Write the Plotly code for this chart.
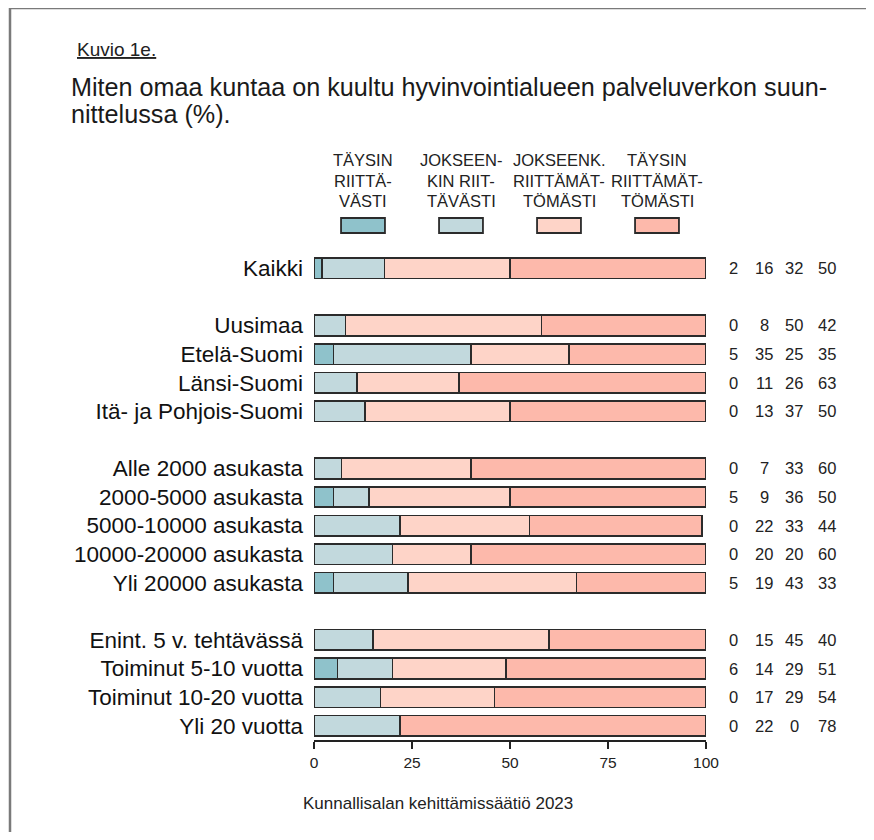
import plotly.graph_objects as go

# data
groups = [
    "Kaikki",
    "Uusimaa", "Etelä-Suomi", "Länsi-Suomi", "Itä- ja Pohjois-Suomi",
    "Alle 2000 asukasta", "2000-5000 asukasta", "5000-10000 asukasta",
    "10000-20000 asukasta", "Yli 20000 asukasta",
    "Enint. 5 v. tehtävässä", "Toiminut 5-10 vuotta",
    "Toiminut 10-20 vuotta", "Yli 20 vuotta",
]
taysin_riittavasti = [2, 0, 5, 0, 0, 0, 5, 0, 0, 5, 0, 6, 0, 0]
jokseenkin_riittavasti = [16, 8, 35, 11, 13, 7, 9, 22, 20, 19, 15, 14, 17, 22]
jokseenk_riittamattomasti = [32, 50, 25, 26, 37, 33, 36, 33, 20, 43, 45, 29, 29, 0]
taysin_riittamattomasti = [50, 42, 35, 63, 50, 60, 50, 44, 60, 33, 40, 51, 54, 78]

series_names = [
    ["TÄYSIN", "RIITTÄ-", "VÄSTI"],
    ["JOKSEEN-", "KIN RIIT-", "TÄVÄSTI"],
    ["JOKSEENK.", "RIITTÄMÄT-", "TÖMÄSTI"],
    ["TÄYSIN", "RIITTÄMÄT-", "TÖMÄSTI"],
]
series_values = [taysin_riittavasti, jokseenkin_riittavasti,
                 jokseenk_riittamattomasti, taysin_riittamattomasti]
colors = ["#8fc2cb", "#c2d9dd", "#fed4c8", "#fdb9ab"]

title_lines = ["Miten omaa kuntaa on kuultu hyvinvointialueen palveluverkon suun-",
               "nittelussa (%)."]

# category order with empty spacer rows between the groups
category_order = (["Kaikki", " "] + groups[1:5] + ["  "] + groups[5:10]
                  + ["   "] + groups[10:])

FONT = "Liberation Sans, Arial, sans-serif"
OFF = 8                            # page body margin in the browser
W, H = 874 - 2 * OFF, 840 - 2 * OFF
L, R, T, B = 314, 706, 254, 740    # plot area in page pixels


def px(xp):
    return (xp - L) / (R - L)


def py(yp):
    return (B - yp) / (B - T)


fig = go.Figure()

for name, vals, col in zip(series_names, series_values, colors):
    fig.add_trace(go.Bar(
        y=groups, x=vals, orientation="h", name=" ".join(name),
        marker=dict(color=col, line=dict(color="#2b2b2b", width=1.6)),
        showlegend=False,
    ))

annotations = []
shapes = []

# value columns on the right
col_x = [733, 764, 794, 827]
for vals, cx in zip(series_values, col_x):
    for g, v in zip(groups, vals):
        annotations.append(dict(
            x=px(cx), y=g, xref="paper", yref="y", text=str(v), showarrow=False,
            xanchor="center", font=dict(size=16.5, color="#222", family=FONT),
        ))

# legend above the bars
for i, (name, col) in enumerate(zip(series_names, colors)):
    cx = (12.5 + 25 * i) / 100
    for j, line in enumerate(name):
        annotations.append(dict(
            x=cx, y=py(160 + 20.5 * j), xref="paper", yref="paper", text=line,
            showarrow=False, xanchor="center", yanchor="middle",
            font=dict(size=16.5, color="#222", family=FONT),
        ))
    shapes.append(dict(
        type="rect", xref="paper", yref="paper",
        x0=cx - 0.056, x1=cx + 0.056, y0=py(233), y1=py(218),
        fillcolor=col, line=dict(color="#2b2b2b", width=1.8),
    ))

# header texts
annotations.append(dict(
    x=px(75), y=py(49), xref="paper", yref="paper",
    text="<u>Kuvio 1e.</u>", showarrow=False, xanchor="left", yanchor="middle",
    font=dict(size=19, color="#222", family=FONT),
))
for k, line in enumerate(title_lines):
    annotations.append(dict(
        x=px(69), y=py(87 + 27 * k), xref="paper", yref="paper",
        text=line, showarrow=False, xanchor="left", yanchor="middle",
        font=dict(size=25.2, color="#1a1a1a", family=FONT),
    ))
annotations.append(dict(
    x=px(438), y=py(803), xref="paper", yref="paper",
    text="Kunnallisalan kehittämissäätiö 2023", showarrow=False,
    xanchor="center", yanchor="middle",
    font=dict(size=17, color="#222", family=FONT),
))

# page frame (left and top edge)
shapes.append(dict(type="line", xref="paper", yref="paper",
                   x0=px(10), x1=px(10), y0=py(8), y1=py(850),
                   line=dict(color="#7a7a7a", width=2.5)))
shapes.append(dict(type="line", xref="paper", yref="paper",
                   x0=px(10), x1=px(890), y0=py(8), y1=py(8),
                   line=dict(color="#7a7a7a", width=2.5)))

fig.update_layout(
    barmode="stack",
    bargap=0.28,
    width=W, height=H,
    margin=dict(l=L - OFF, r=W - (R - OFF), t=T - OFF, b=H - (B - OFF)),
    paper_bgcolor="white", plot_bgcolor="white",
    font=dict(family=FONT, color="#222"),
    xaxis=dict(
        range=[0, 100], tickvals=[0, 25, 50, 75, 100],
        ticks="outside", ticklen=7, tickwidth=2, tickcolor="#222",
        showline=True, linecolor="#222", linewidth=2,
        showgrid=False, zeroline=False,
        tickfont=dict(size=15.5, color="#222", family=FONT),
    ),
    yaxis=dict(
        categoryorder="array", categoryarray=category_order[::-1],
        range=[-0.5, len(category_order) - 0.5],
        showgrid=False, zeroline=False, showline=False, ticks="",
        ticklabelstandoff=10,
        tickfont=dict(size=22.5, color="#111", family=FONT),
    ),
    annotations=annotations,
    shapes=shapes,
)

fig.write_html("out.html")
